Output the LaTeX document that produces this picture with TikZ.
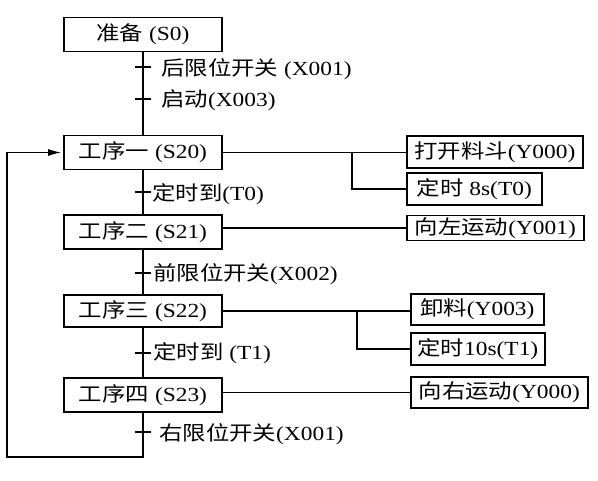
\documentclass[tikz,border=0pt]{standalone}
\usepackage{fontspec}
\setmainfont[FakeStretch=1.17]{Liberation Serif}
\newfontfamily\cjk[FakeStretch=1.17]{Noto Sans CJK SC}
\usetikzlibrary{arrows.meta, positioning, calc}

\newcommand{\zh}[1]{{\cjk #1}}

\begin{document}
\begin{tikzpicture}[
  x=1pt, y=-1pt,
  font=\fontsize{20}{24}\selectfont,
  stepbox/.style={rectangle, draw, line width=1.6pt,
                  minimum width=158pt, minimum height=34pt, inner sep=0pt},
  outbox/.style={rectangle, draw, line width=1.6pt,
                 minimum height=31pt, inner sep=0pt, anchor=west},
  line/.style={line width=1.4pt},
  cond/.style={anchor=west, inner sep=0pt},
  arr/.style={line width=1.4pt, -{Latex[length=13pt, width=7pt]}, shorten >=2pt},
]
\useasboundingbox (0,0) rectangle (598,481);

% steps
\node[stepbox] (s0)  at (143,34.5) {\zh{准备} (S0)};
\node[stepbox] (s20) at (143,152.5) {\zh{工序一} (S20)};
\node[stepbox] (s21) at (143,232) {\zh{工序二} (S21)};
\node[stepbox, minimum height=32pt] (s22) at (143,311) {\zh{工序三} (S22)};
\node[stepbox] (s23) at (143,395) {\zh{工序四} (S23)};

% outputs
\node[outbox, minimum width=176pt, minimum height=32pt] (y0a) at (406,152)
  {\zh{打开料斗}(Y000)};
\node[outbox, minimum width=135pt, minimum height=32pt] (t0) at (406,189)
  {\zh{定时} 8s(T0)};
\node[outbox, minimum width=177pt, minimum height=25pt] (y1) at (406,228)
  {\zh{向左运动}(Y001)};
\node[outbox, minimum width=133pt] (y3) at (410,309.5)
  {\zh{卸料}(Y003)};
\node[outbox, minimum width=134pt, minimum height=32pt] (t1) at (410,349)
  {\zh{定时}10s(T1)};
\node[outbox, minimum width=177pt] (y0b) at (410,392.5)
  {\zh{向右运动}(Y000)};

% transitions
\coordinate (c1) at (143,67);
\coordinate (c2) at (143,99);
\coordinate (c3) at (143,192);
\coordinate (c4) at (143,273);
\coordinate (c5) at (143,353);
\coordinate (c6) at (143,432);
\foreach \c in {c1,c2,c3,c4,c5,c6}
  \draw[line] ($(\c)+(-8,0)$) -- ($(\c)+(8,0)$);

\node[cond] (l1) at ($(c1)+(18,2)$) {\zh{后限位开关} (X001)};
\node[cond] (l2) at ($(c2)+(18,1)$) {\zh{启动}(X003)};
\node[cond] (l3) at ($(c3)+(9,2)$) {\zh{定时到}(T0)};
\node[cond] (l4) at ($(c4)+(10,1)$) {\zh{前限位开关}(X002)};
\node[cond] (l5) at ($(c5)+(10,0)$) {\zh{定时到} (T1)};
\node[cond] (l6) at ($(c6)+(16,2)$) {\zh{右限位开关}(X001)};

\draw[line] (s0) -- (s20);
\draw[line] (s20) -- (s21);
\draw[line] (s21) -- (s22);
\draw[line] (s22) -- (s23);

% loop back
\coordinate (back) at (7,457);
\draw[arr] (s23.south) |- (back) |- (s20.west);

% output lines
\coordinate (j1) at (352,152);
\coordinate (j2) at (357,311);
\draw[line] (s20.east) -- (s20.east -| y0a.west);
\draw[line] (j1) |- (t0.west);
\draw[line] (s21.east |- y1.west) -- (y1.west);
\draw[line] (s22.east) -- (s22.east -| y3.west);
\draw[line] (j2) |- (t1.west);
\draw[line] (s23.east |- y0b.west) -- (y0b.west);

\end{tikzpicture}
\end{document}
